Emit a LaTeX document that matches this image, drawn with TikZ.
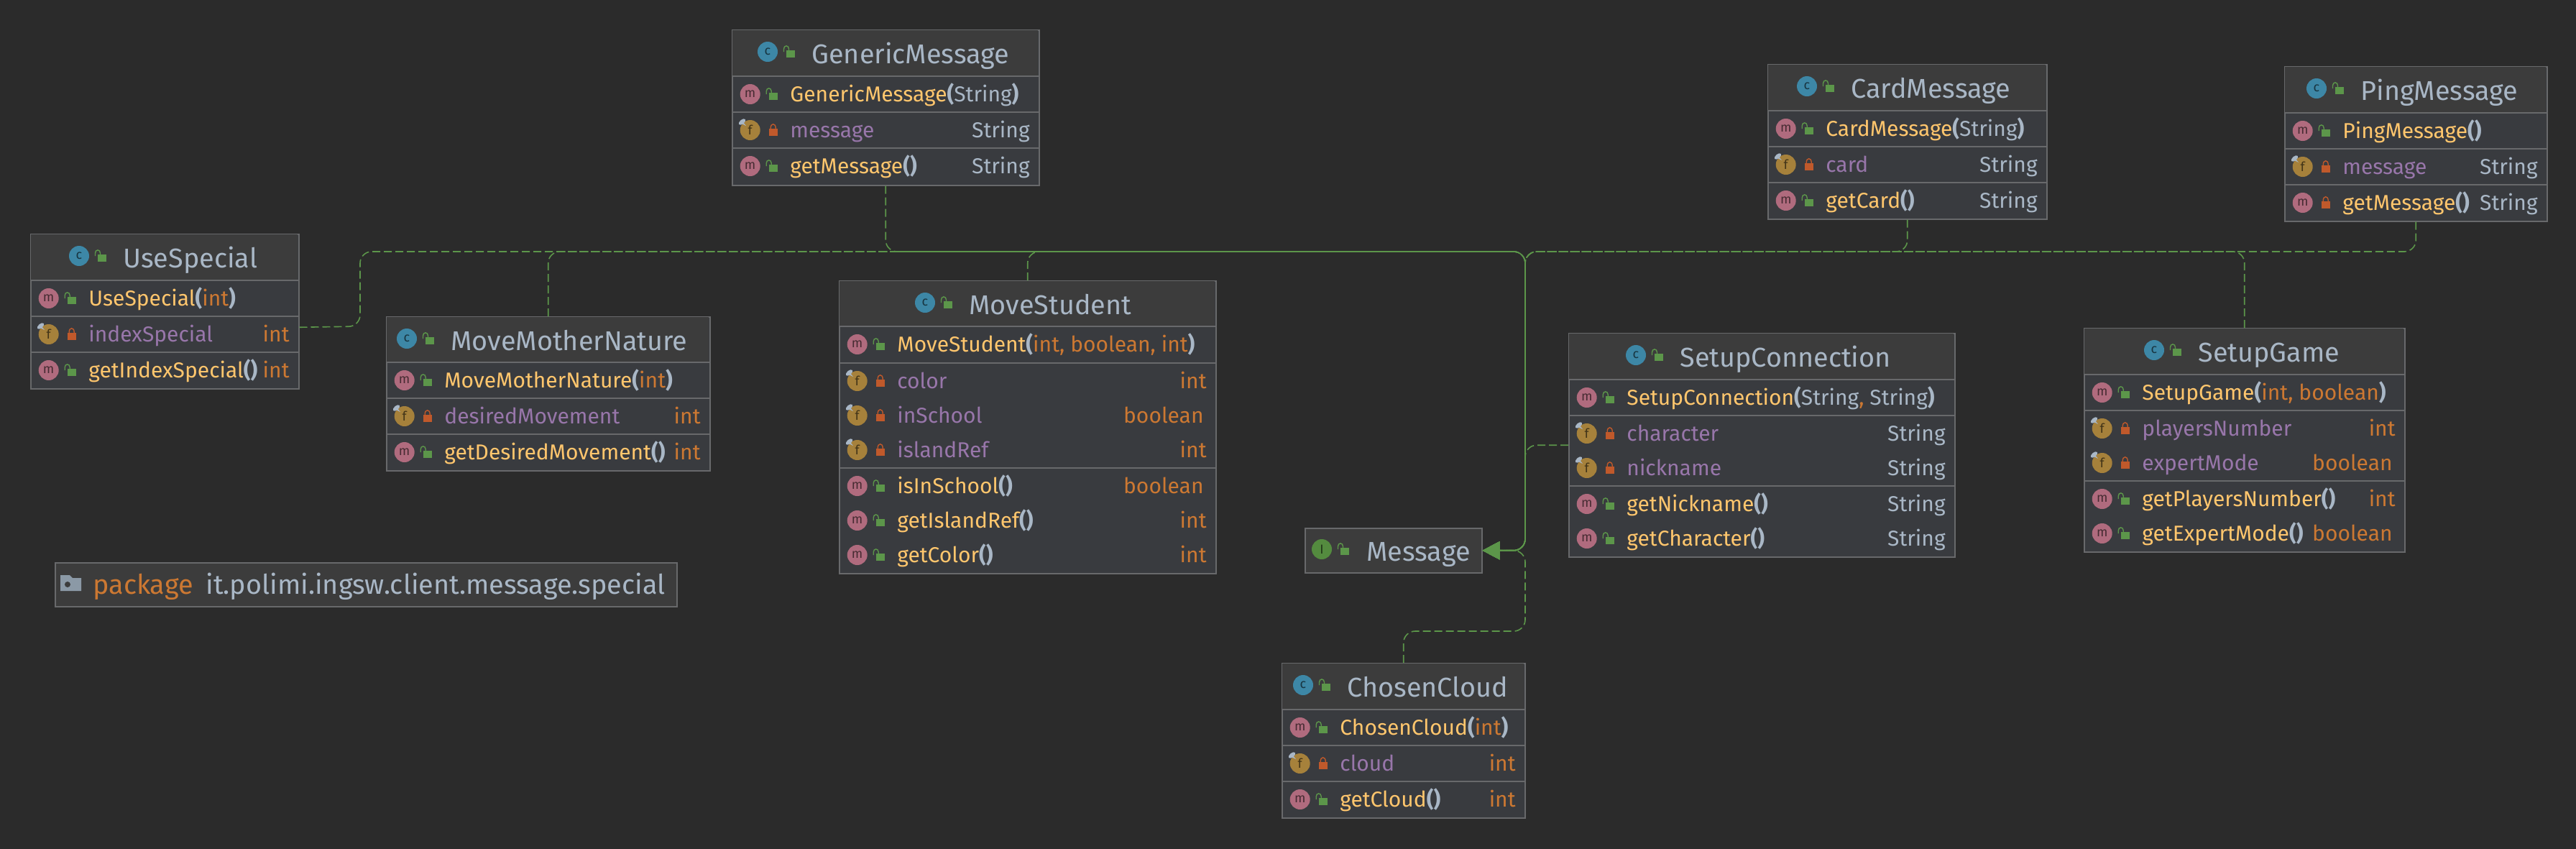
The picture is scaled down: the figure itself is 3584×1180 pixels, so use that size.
\documentclass[tikz,border=0pt]{standalone}
\usepackage{fontspec}
\usepackage{tikz}
\usetikzlibrary{arrows.meta}
\setmainfont{Fira Sans}

\definecolor{canvas}{HTML}{2B2B2B}
\definecolor{headfill}{HTML}{3C3C3C}
\definecolor{rowfill}{HTML}{393B3F}
\definecolor{boxline}{HTML}{68696B}
\definecolor{linkgreen}{HTML}{5C964A}
\definecolor{plain}{HTML}{A9B7C6}
\definecolor{keyword}{HTML}{CC7832}
\definecolor{method}{HTML}{FFC66D}
\definecolor{field}{HTML}{9876AA}
\definecolor{lockred}{HTML}{C0592B}
\definecolor{classblue}{HTML}{3D87A6}
\definecolor{methodpink}{HTML}{B06B7E}
\definecolor{fieldgold}{HTML}{A6813B}
\definecolor{ifacegreen}{HTML}{548B3F}
\definecolor{folder}{HTML}{8B99A6}

\newcount\rowno
\newcommand{\nextno}{\global\advance\rowno by 1 }
\newcommand{\rowfont}{\fontsize{15}{17}\selectfont}
\newcommand{\titlefont}{\fontsize{18.9}{21}\selectfont}

\newcommand{\mname}[1]{\textcolor{method}{#1}}
\newcommand{\fname}[1]{\textcolor{field}{#1}}
\newcommand{\tstr}{\textcolor{plain}{String}}
\newcommand{\tint}{\textcolor{keyword}{int}}
\newcommand{\tbool}{\textcolor{keyword}{boolean}\kern2pt}
\newcommand{\lp}{\textcolor{plain}{\textbf{(}}}
\newcommand{\rp}{\textcolor{plain}{\textbf{)}}}

\tikzset{
    classnode/.style={draw=boxline, fill=rowfill, line width=.75pt, rectangle, inner sep=0pt, anchor=north west},
    iconnode/.style={circle, minimum size=14pt, inner sep=0pt, font=\fontsize{9}{9}\selectfont},
    rowtext/.style={inner sep=0pt, font=\rowfont},
    titletext/.style={inner sep=0pt, font=\titlefont, text=plain},
    rowsep/.style={draw=boxline, line width=1pt},
    implements/.style={draw=linkgreen, line width=.8pt, rounded corners=8pt, dash pattern=on 5.5pt off 2.5pt,
        -{Triangle[length=12pt,width=12.5pt,fill=linkgreen]}},
}

\newcommand{\openlock}[2]{
    \fill[linkgreen] (#1+26,#2-2) rectangle (#1+38,#2+8);
    \draw[linkgreen, line width=.7pt] (#1+22.5,#2) -- (#1+22.5,#2-4) .. controls (#1+22.5,#2-9.5) and (#1+29.5,#2-9.5) .. (#1+29.5,#2-4) -- (#1+29.5,#2-2);
}
\newcommand{\closedlock}[2]{
    \fill[lockred] (#1+26,#2-2) rectangle (#1+38,#2+8);
    \draw[lockred, line width=.7pt] (#1+28.5,#2-2) -- (#1+28.5,#2-3) .. controls (#1+28.5,#2-10) and (#1+35.5,#2-10) .. (#1+35.5,#2-3) -- (#1+35.5,#2-2);
}

% name, x, y, width, height, icon offset, title
\newcommand{\classhead}[7]{
    \def\boxx{#2}
    \def\boxw{#4}
    \node[classnode, minimum width=#4*.5pt, minimum height=#5*.5pt] (#1) at (#2,#3) {};
    \fill[headfill] (#2+1,#3+1) rectangle (#2+#4-1,#3+64);
    \nextno
    \node[iconnode, fill=classblue, text=classblue!40!black] (icon\the\rowno) at (#2+#6,#3+31) {c};
    \openlock{#2+#6}{#3+31}
    \node[titletext, anchor=base west] (title\the\rowno) at (#2+#6+61,#3+47) {#7};
}
\newcommand{\sepline}[1]{
    \draw[rowsep] (\boxx,#1) -- (\boxx+\boxw,#1);
}
% y, kind letter, icon fill, lock macro, left text, right text
\newcommand{\member}[6]{
    \nextno
    \node[iconnode, fill=#3, text=#3!40!black] (icon\the\rowno) at (\boxx+25.7,#1) {#2};
    #4{\boxx+25.7}{#1}
    \node[rowtext, anchor=base west] (left\the\rowno) at (\boxx+81,#1+10.7) {#5};
    \node[rowtext, anchor=base east] (right\the\rowno) at (\boxx+\boxw-12,#1+10.7) {#6};
}
\newcommand{\finalpin}[1]{
    \fill[plain] (\boxx+14.5,#1-11.5) ellipse [x radius=2.8pt, y radius=1.5pt, rotate=40];
    \fill[plain] (\boxx+16,#1-11) -- (\boxx+20,#1-6) -- (\boxx+14,#1-9) -- cycle;
}
\newcommand{\pubm}[3]{\member{#1}{m}{methodpink}{\openlock}{#2}{#3}}
\newcommand{\privm}[3]{\member{#1}{m}{methodpink}{\closedlock}{#2}{#3}}
\newcommand{\privf}[3]{\member{#1}{f}{fieldgold}{\closedlock}{#2}{#3}\finalpin{#1}}

\begin{document}
\begin{tikzpicture}[x=.5pt, y=-.5pt]
    \useasboundingbox (0,0) rectangle (3584,1180);
    \fill[canvas] (-2,-2) rectangle (3586,1182);

    \classhead{UseSpecial}{42}{325}{373}{215}{68}{UseSpecial}
    \sepline{390} \sepline{440} \sepline{490}
    \pubm{415}{\mname{UseSpecial}\lp\tint\rp}{}
    \privf{465}{\fname{indexSpecial}}{\tint}
    \pubm{515}{\mname{getIndexSpecial}\lp\rp}{\tint}

    \classhead{MoveMotherNature}{537}{440}{450}{214}{29}{MoveMotherNature}
    \sepline{504} \sepline{554} \sepline{604}
    \pubm{529}{\mname{MoveMotherNature}\lp\tint\rp}{}
    \privf{579}{\fname{desiredMovement}}{\tint}
    \pubm{629}{\mname{getDesiredMovement}\lp\rp}{\tint}

    \classhead{GenericMessage}{1018}{41}{427}{216}{50}{GenericMessage}
    \sepline{106} \sepline{156} \sepline{206}
    \pubm{131}{\mname{GenericMessage}\lp\tstr\rp}{}
    \privf{181}{\fname{message}}{\tstr}
    \pubm{231}{\mname{getMessage}\lp\rp}{\tstr}

    \classhead{MoveStudent}{1167}{390}{524}{407}{120}{MoveStudent}
    \sepline{454} \sepline{505} \sepline{651}
    \pubm{479}{\mname{MoveStudent}\lp\tint\textcolor{keyword}{, boolean, }\tint\rp}{}
    \privf{530}{\fname{color}}{\tint}
    \privf{578}{\fname{inSchool}}{\tbool}
    \privf{626}{\fname{islandRef}}{\tint}
    \pubm{676}{\mname{isInSchool}\lp\rp}{\tbool}
    \pubm{724}{\mname{getIslandRef}\lp\rp}{\tint}
    \pubm{772}{\mname{getColor}\lp\rp}{\tint}

    \classhead{CardMessage}{2459}{89}{388}{215}{55}{CardMessage}
    \sepline{154} \sepline{204} \sepline{254}
    \pubm{179}{\mname{CardMessage}\lp\tstr\rp}{}
    \privf{229}{\fname{card}}{\tstr}
    \pubm{279}{\mname{getCard}\lp\rp}{\tstr}

    \classhead{PingMessage}{3178}{92}{365}{215}{45}{PingMessage}
    \sepline{157} \sepline{207} \sepline{257}
    \pubm{182}{\mname{PingMessage}\lp\rp}{}
    \privf{232}{\fname{message}}{\tstr}
    \privm{282}{\mname{getMessage}\lp\rp}{\tstr}

    \classhead{SetupConnection}{2182}{463}{537}{311}{94}{SetupConnection}
    \sepline{528} \sepline{578} \sepline{676}
    \pubm{553}{\mname{SetupConnection}\lp\tstr\textcolor{keyword}{, }\tstr\rp}{}
    \privf{603}{\fname{character}}{\tstr}
    \privf{651}{\fname{nickname}}{\tstr}
    \pubm{701}{\mname{getNickname}\lp\rp}{\tstr}
    \pubm{749}{\mname{getCharacter}\lp\rp}{\tstr}

    \classhead{SetupGame}{2899}{456}{446}{311}{98}{SetupGame}
    \sepline{521} \sepline{571} \sepline{669}
    \pubm{546}{\mname{SetupGame}\lp\textcolor{keyword}{int, boolean}\rp}{}
    \privf{596}{\fname{playersNumber}}{\tint}
    \privf{644}{\fname{expertMode}}{\tbool}
    \pubm{694}{\mname{getPlayersNumber}\lp\rp}{\tint}
    \pubm{742}{\mname{getExpertMode}\lp\rp}{\tbool}

    \classhead{ChosenCloud}{1783}{922}{338}{215}{30}{ChosenCloud}
    \sepline{987} \sepline{1037} \sepline{1087}
    \pubm{1012}{\mname{ChosenCloud}\lp\tint\rp}{}
    \privf{1062}{\fname{cloud}}{\tint}
    \pubm{1112}{\mname{getCloud}\lp\rp}{\tint}

    \node[classnode, fill=headfill, minimum width=246*.5pt, minimum height=62*.5pt] (Message) at (1815,734) {};
    \node[iconnode, fill=ifacegreen, text=ifacegreen!40!black] (messageicon) at (1839,764) {I};
    \openlock{1839}{764}
    \node[titletext, anchor=base west] (messagetitle) at (1901,780) {Message};

    \node[classnode, fill=headfill, minimum width=865*.5pt, minimum height=61*.5pt] (packagebox) at (76,782) {};
    \fill[folder] (84,800) -- (97,800) -- (101,804) -- (113,804) -- (113,822) -- (84,822) -- cycle;
    \fill[headfill] (94,813) circle (2pt);
    \node[titletext, anchor=base west, text=keyword] (packagekey) at (129,826) {package};
    \node[titletext, anchor=base west] (packagename) at (286,826) {it.polimi.ingsw.client.message.special};

    \coordinate (hub) at (2122,350);
    \coordinate (usedrop) at (501,454);
    \coordinate (usetop) at (501,350);
    \coordinate (cloudturn) at (2122,878);

    \draw[implements] ([yshift=-11pt]UseSpecial.east) -- (usedrop) -- (usetop) -- (hub) |- (Message.east);
    \draw[implements] (MoveMotherNature.north) |- (hub) |- (Message.east);
    \draw[implements] (GenericMessage.south) |- (hub) |- (Message.east);
    \draw[implements] (MoveStudent.north) |- (hub) |- (Message.east);
    \draw[implements] (CardMessage.south) |- (hub) |- (Message.east);
    \draw[implements] (PingMessage.south) |- (hub) |- (Message.east);
    \draw[implements] (SetupGame.north) |- (hub) |- (Message.east);
    \draw[implements] (SetupConnection.west) -| (hub |- Message.east) -- (Message.east);
    \draw[implements] (ChosenCloud.north) |- (cloudturn) |- (Message.east);
\end{tikzpicture}
\end{document}
